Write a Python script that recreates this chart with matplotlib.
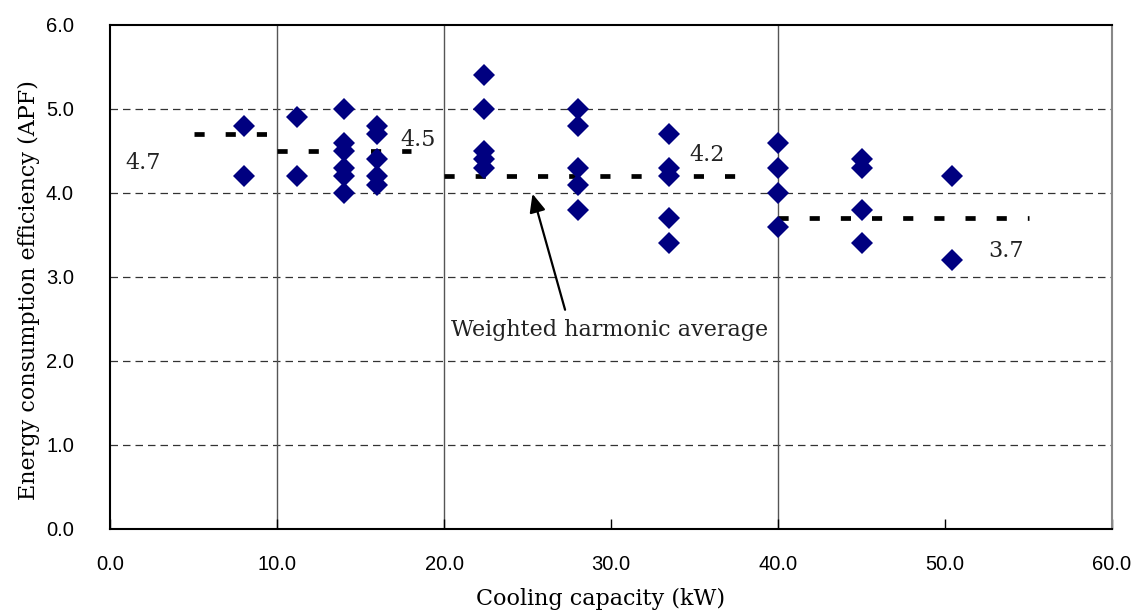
import numpy as np
import matplotlib
matplotlib.use('Agg')
import matplotlib.pyplot as plt

# capacity (kW) and the APF values measured at each capacity
capacity = [8.0, 11.2, 14.0, 16.0, 22.4, 28.0, 33.5, 40.0, 45.0, 50.4]
apf = [
    [4.8, 4.2],
    [4.9, 4.2],
    [5.0, 4.6, 4.5, 4.3, 4.2, 4.0],
    [4.8, 4.7, 4.4, 4.2, 4.1],
    [5.4, 5.0, 4.5, 4.4, 4.3],
    [5.0, 4.8, 4.3, 4.1, 3.8],
    [4.7, 4.3, 4.2, 3.7, 3.4],
    [4.6, 4.3, 4.0, 3.6],
    [4.4, 4.3, 3.8, 3.4],
    [4.2, 3.2],
]

# weighted harmonic averages per capacity band
avg_value = [4.7, 4.5, 4.2, 3.7]
avg_from = [5.0, 10.0, 20.0, 40.0]
avg_to = [9.5, 18.0, 37.5, 55.0]
avg_label = ['4.7', '4.5', '4.2', '3.7']

xticks = np.arange(0, 61, 10)
yticks = np.arange(0, 6.1, 1)

serif = 'DejaVu Serif'

fig = plt.figure(figsize=(11.33, 6.10), dpi=100)
ax = fig.add_axes([110/1133, 81/610, 1002/1133, 504/610])

xs = []
ys = []
for c, vals in zip(capacity, apf):
    for v in vals:
        xs.append(c)
        ys.append(v)
ax.plot(xs, ys, 'D', color='#000080', markersize=11, markeredgewidth=0, zorder=4)

for v, a, b in zip(avg_value, avg_from, avg_to):
    ln, = ax.plot([a, b], [v, v], color='black', lw=3.4, solid_capstyle='butt',
                  dash_capstyle='butt', zorder=3)
    ln.set_dashes([2.15, 4.45])

# value labels next to each average line
lab_pos = [(0.9, 4.36), (17.4, 4.63), (34.7, 4.45), (52.6, 3.31)]
for t, (px, py) in zip(avg_label, lab_pos):
    ax.text(px, py, t, family=serif, fontsize=16, ha='left', va='center', color='#222222')

ax.text(29.9, 2.37, 'Weighted harmonic average', ha='center', va='center',
        family=serif, fontsize=16, color='#222222')
ax.annotate('', xy=(25.3, 3.99), xytext=(27.25, 2.61),
            arrowprops=dict(arrowstyle='-|>,head_length=0.5,head_width=0.22', color='black',
                            lw=1.6, mutation_scale=22, shrinkA=0, shrinkB=0))

# grid: dashed horizontals, solid verticals only at 10, 20, 40
for yv in yticks[1:-1]:
    ax.axhline(yv, color='#333333', lw=0.9, ls=(0, (6, 4)), zorder=1)
for xv in [10, 20, 40]:
    ax.axvline(xv, color='#555555', lw=1.0, zorder=1)

ax.set_xlim(0, 60)
ax.set_ylim(0, 6)
ax.set_xticks(xticks)
ax.set_xticklabels(['%.1f' % v for v in xticks], fontsize=14.5, family='Liberation Sans')
ax.set_yticks(yticks)
ax.set_yticklabels(['%.1f' % v for v in yticks], fontsize=14.5, family='Liberation Sans')
ax.tick_params(axis='x', direction='in', length=7, width=1, pad=19)
ax.tick_params(axis='y', length=0, pad=26)

for s in ['left', 'bottom', 'top']:
    ax.spines[s].set_linewidth(1.5)
    ax.spines[s].set_color('black')
ax.spines['right'].set_linewidth(1.5)
ax.spines['right'].set_color('#888888')

ax.set_xlabel('Cooling capacity (kW)', family=serif, fontsize=16)
ax.xaxis.set_label_coords(0.49, -0.117)
ax.set_ylabel('Energy consumption efficiency (APF)', family=serif, fontsize=16)
ax.yaxis.set_label_coords(-0.07, 0.475)

fig.savefig('out.png', dpi=100)
